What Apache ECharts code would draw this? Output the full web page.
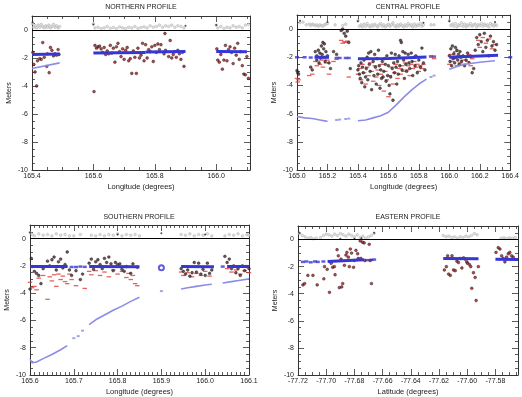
<!DOCTYPE html>
<html>
<head>
<meta charset="utf-8">
<script src="https://cdn.jsdelivr.net/npm/echarts@6/dist/echarts.min.js"></script>
<style>
  html, body { margin: 0; padding: 0; background: #fff; }
  #chart { width: 522px; height: 397px; }
</style>
</head>
<body>
<div id="chart"></div>
<script>
// ---- northern profile ----
const northTop = [[165.402,0.45],[165.405,0.2],[165.41,0.3],[165.415,0.15],[165.42,0.35],[165.425,0.2],[165.43,0.4],[165.435,0.25],[165.44,0.15],[165.445,0.3],[165.45,0.2],[165.455,0.35],[165.46,0.15],[165.465,0.25],[165.47,0.4],[165.475,0.2],[165.48,0.3],[165.485,0.15],[165.49,0.25],
  [165.6,0.45],[165.605,0.15],[165.615,0.2],[165.625,0.1],[165.635,0.15],[165.645,0.25],[165.655,0.12],[165.665,0.18],[165.675,0.1],[165.685,0.22],[165.695,0.15],[165.705,0.1],[165.715,0.2],[165.725,0.15],[165.735,0.25],[165.745,0.12],[165.755,0.18],[165.765,0.22],[165.775,0.15],[165.785,0.3],[165.795,0.2],[165.805,0.25],[165.815,0.35],[165.825,0.2],[165.835,0.3],[165.845,0.25],[165.855,0.35],[165.865,0.2],[165.875,0.3],[165.885,0.25],[165.895,0.15],
  [166.0,0.35],[166.005,0.15],[166.015,0.25],[166.025,0.1],[166.035,0.2],[166.045,0.15],[166.055,0.3],[166.065,0.2],[166.075,0.25],[166.085,0.15],[166.095,0.35],[166.105,0.4]]
const northMarks = [[165.402,0.55],[165.6,0.4],[165.9,0.3],[166.0,0.35]]
const northDots = [[165.403,-1.6],[165.406,-2.45],[165.41,-3.0],[165.415,-4.0],[165.418,-2.2],[165.425,-2.05],[165.43,-2.1],[165.435,-0.9],[165.44,-1.95],[165.448,-2.6],[165.45,-1.7],[165.456,-3.05],[165.46,-1.25],[165.465,-1.45],[165.47,-1.85],[165.475,-1.7],[165.48,-1.8],[165.485,-1.4],[165.488,-1.75],
  [165.602,-4.4],[165.605,-1.1],[165.61,-1.3],[165.615,-1.2],[165.62,-1.15],[165.625,-1.35],[165.63,-1.6],[165.635,-1.25],[165.64,-1.75],[165.645,-1.5],[165.65,-1.7],[165.655,-1.1],[165.66,-1.65],[165.665,-1.3],[165.67,-2.3],[165.675,-1.2],[165.68,-0.95],[165.685,-1.55],[165.69,-1.9],[165.695,-1.35],[165.7,-2.1],[165.705,-1.45],[165.71,-1.25],[165.715,-2.2],[165.72,-2.05],[165.725,-3.1],[165.73,-1.5],[165.735,-1.95],[165.74,-3.1],[165.745,-1.3],[165.75,-2.0],[165.755,-1.8],[165.76,-0.95],[165.765,-2.2],[165.77,-1.05],[165.775,-2.0],[165.78,-1.4],[165.785,-1.55],[165.79,-1.2],[165.795,-2.25],[165.8,-1.1],[165.805,-1.6],[165.81,-1.0],[165.815,-1.4],[165.82,-1.05],[165.833,-0.25],[165.83,-1.7],[165.835,-1.45],[165.85,-0.75],[165.845,-1.9],[165.855,-2.0],[165.86,-1.75],[165.865,-1.55],[165.87,-1.95],[165.875,-1.45],[165.88,-1.7],[165.885,-2.1],[165.89,-1.6],[165.895,-2.6],
  [166.002,-1.35],[166.005,-2.15],[166.01,-2.3],[166.015,-1.75],[166.02,-2.8],[166.025,-2.15],[166.03,-1.1],[166.035,-2.2],[166.04,-1.4],[166.045,-1.2],[166.05,-1.6],[166.055,-2.4],[166.06,-1.3],[166.065,-1.8],[166.07,-0.95],[166.075,-2.1],[166.08,-1.55],[166.085,-2.55],[166.09,-3.15],[166.095,-3.2],[166.1,-1.9],[166.105,-3.45]]
const northBlue = [[[165.4,-1.75],[165.49,-1.72]], [[165.6,-1.64],[165.77,-1.6]], [[165.77,-1.57],[165.9,-1.53]], [[166.0,-1.53],[166.1,-1.56]]]
const northCurve = [[[165.4,-2.75],[165.49,-2.35]]]

// ---- central profile ----
const centralTop = [[165.02,0.45],[165.04,0.5],[165.06,0.3],[165.08,0.35],[165.09,0.25],[165.1,0.35],[165.11,0.3],[165.12,0.25],[165.13,0.3],[165.14,0.2],[165.15,0.3],[165.16,0.25],[165.17,0.2],[165.18,0.3],[165.19,0.35],[165.2,0.4],[165.25,0.3],[165.3,0.25],[165.32,0.35],
  [165.4,0.6],[165.41,0.2],[165.42,0.3],[165.43,0.15],[165.44,0.35],[165.45,0.2],[165.46,0.4],[165.47,0.25],[165.48,0.15],[165.49,0.3],[165.5,0.2],[165.51,0.35],[165.52,0.25],[165.53,0.15],[165.54,0.3],[165.55,0.4],[165.56,0.2],[165.57,0.3],[165.58,0.15],[165.59,0.25],[165.6,0.35],[165.61,0.2],[165.62,0.3],[165.63,0.45],[165.64,0.25],[165.65,0.15],[165.66,0.3],[165.67,0.2],[165.68,0.35],[165.69,0.25],[165.7,0.15],[165.71,0.3],[165.72,0.2],[165.73,0.4],[165.74,0.25],[165.75,0.3],[165.76,0.15],[165.77,0.35],[165.78,0.2],[165.79,0.3],[165.8,0.25],[165.81,0.4],[165.82,0.2],[165.83,0.3],[165.88,0.3],[165.9,0.3],
  [166.0,0.6],[166.01,0.25],[166.02,0.35],[166.03,0.2],[166.04,0.4],[166.05,0.15],[166.06,0.3],[166.07,0.25],[166.08,0.45],[166.09,0.2],[166.1,0.35],[166.11,0.15],[166.12,0.3],[166.13,0.25],[166.14,0.4],[166.15,0.2],[166.16,0.3],[166.17,0.35],[166.18,0.15],[166.19,0.3],[166.2,0.25],[166.21,0.4],[166.22,0.2],[166.23,0.35],[166.24,0.25],[166.25,0.3],[166.26,0.15],[166.27,0.4],[166.28,0.3],[166.29,0.2],[166.3,0.35],[166.31,0.25]]
const centralMarks = [[165.02,0.6],[165.2,0.5],[165.4,0.55],[165.83,0.45],[166.0,0.55],[166.3,0.5]]
const centralDots = [[165.0,-2.95],[165.005,-3.1],[165.01,-3.2],
  [165.09,-2.7],[165.1,-2.9],[165.12,-1.6],[165.13,-1.9],[165.13,-2.2],[165.14,-1.5],[165.145,-2.4],[165.15,-1.7],[165.155,-2.05],[165.16,-1.2],[165.165,-1.8],[165.17,-0.95],[165.175,-1.4],[165.18,-1.05],[165.185,-2.3],[165.19,-1.6],[165.2,-1.9],[165.21,-2.4],[165.22,-2.8],
  [165.24,-1.6],[165.26,-1.8],[165.29,-0.1],[165.3,0.0],[165.31,-0.3],[165.32,-0.5],[165.33,-0.15],[165.34,-0.95],[165.35,-2.8],
  [165.4,-2.9],[165.405,-2.6],[165.41,-3.2],[165.415,-3.5],[165.42,-2.4],[165.425,-3.8],[165.43,-2.7],[165.435,-3.1],[165.44,-2.2],[165.445,-4.1],[165.45,-3.4],[165.455,-2.8],[165.46,-2.0],[165.465,-3.6],[165.47,-1.7],[165.475,-2.5],[165.48,-3.0],[165.485,-1.6],[165.49,-4.3],[165.5,-2.3],[165.505,-3.3],[165.51,-1.8],[165.515,-2.7],[165.52,-3.9],[165.525,-2.1],[165.53,-3.2],[165.535,-1.5],[165.54,-2.6],[165.545,-4.2],[165.55,-2.9],[165.555,-3.5],[165.56,-2.3],[165.565,-3.4],[165.57,-3.0],[165.575,-2.1],[165.58,-2.5],[165.585,-3.7],[165.59,-1.9],[165.595,-3.3],[165.6,-2.6],[165.605,-4.0],[165.61,-4.6],[165.615,-3.4],[165.62,-1.7],[165.625,-2.8],[165.63,-5.05],[165.635,-2.4],[165.64,-3.1],[165.645,-1.8],[165.65,-2.7],[165.655,-3.9],[165.66,-2.3],[165.665,-3.2],[165.67,-1.9],[165.675,-2.6],[165.68,-0.8],[165.685,-0.95],[165.69,-2.9],[165.695,-1.6],[165.7,-2.2],[165.705,-3.5],[165.71,-1.7],[165.715,-2.5],[165.72,-3.0],[165.73,-1.8],[165.735,-2.4],[165.74,-2.8],[165.75,-1.7],[165.755,-2.3],[165.76,-3.3],[165.77,-2.0],[165.775,-2.6],[165.78,-1.9],[165.79,-3.1],[165.8,-2.2],[165.81,-2.7],[165.82,-1.35],[165.83,-2.4],[165.84,-2.9],
  [166.0,-1.9],[166.005,-2.3],[166.01,-1.4],[166.015,-2.6],[166.02,-1.2],[166.025,-2.1],[166.03,-1.75],[166.035,-2.4],[166.04,-1.3],[166.045,-2.0],[166.05,-1.5],[166.055,-2.2],[166.06,-1.8],[166.065,-2.5],[166.07,-1.6],[166.075,-2.0],[166.08,-2.3],[166.09,-1.9],[166.1,-2.6],[166.11,-2.2],[166.12,-1.7],[166.13,-2.4],[166.14,-1.95],[166.15,-3.1],[166.16,-2.8],[166.17,-1.5],[166.18,-0.6],[166.19,-1.1],[166.2,-0.4],[166.21,-0.9],[166.22,-1.6],[166.23,-0.3],[166.24,-1.3],[166.25,-0.8],[166.26,-1.9],[166.27,-0.5],[166.28,-1.2],[166.29,-0.9],[166.3,-1.5],[166.31,-1.1]]
const centralDash = [[165.0,-3.5],[165.005,-3.75],[165.01,-3.6],
  [165.08,-3.3],[165.1,-3.2],[165.12,-2.3],[165.13,-2.6],[165.14,-2.0],[165.15,-2.5],[165.16,-2.2],[165.17,-2.7],[165.18,-2.1],[165.19,-2.4],[165.2,-2.2],[165.21,-3.2],[165.24,-2.3],[165.26,-2.15],
  [165.29,-0.8],[165.3,-1.0],[165.31,-0.9],[165.32,-0.95],[165.33,-0.85],[165.34,-3.4],
  [165.4,-3.2],[165.41,-2.8],[165.42,-3.6],[165.43,-2.5],[165.44,-3.1],[165.45,-3.9],[165.46,-2.7],[165.47,-3.3],[165.48,-2.4],[165.49,-3.0],[165.5,-3.7],[165.51,-2.6],[165.52,-3.4],[165.53,-2.9],[165.54,-4.0],[165.55,-3.2],[165.56,-2.5],[165.57,-4.4],[165.58,-3.0],[165.59,-3.6],[165.6,-4.8],[165.61,-3.3],[165.62,-2.7],[165.63,-3.9],[165.64,-3.1],[165.65,-2.5],[165.66,-3.5],[165.67,-2.8],[165.68,-3.2],[165.69,-2.6],[165.7,-3.0],[165.71,-2.4],[165.72,-2.9],[165.73,-2.6],[165.74,-3.3],[165.75,-2.5],[165.76,-2.8],[165.77,-2.3],[165.78,-2.7],[165.79,-2.5],[165.8,-3.0],[165.81,-2.6],[165.82,-2.8],[165.83,-2.5],[165.88,-1.9],[165.9,-2.1],
  [166.0,-2.5],[166.01,-1.8],[166.02,-2.3],[166.03,-2.1],[166.04,-1.6],[166.05,-2.6],[166.06,-2.0],[166.07,-2.4],[166.08,-1.9],[166.09,-2.2],[166.1,-2.5],[166.11,-2.0],[166.12,-2.3],[166.13,-1.8],[166.14,-2.6],[166.15,-2.1],[166.17,-1.9],[166.19,-0.8],[166.2,-1.3],[166.22,-0.6],[166.24,-1.0],[166.26,-0.7],[166.28,-1.4],[166.3,-1.1]]
const centralBlue = [[[165.115,-2.0],[165.21,-2.0]], [[165.4,-2.1],[165.6,-2.08],[165.85,-1.98]], [[166.0,-2.0],[166.32,-1.85]]]
const centralBlueDots = [[165.0,-2.0],[165.05,-2.0],[165.09,-2.02],[165.26,-2.05],[165.28,-2.05],[165.32,-2.05],[165.34,-2.05],[165.88,-1.95],[165.9,-1.95],[166.4,-2.0]]
const centralCurve = [[[165.0,-6.2],[165.05,-6.3],[165.1,-6.35],[165.15,-6.45],[165.2,-6.55]],
  [[165.4,-6.5],[165.45,-6.45],[165.5,-6.3],[165.55,-6.15],[165.6,-5.9],[165.65,-5.4],[165.7,-4.85],[165.75,-4.35],[165.8,-3.9],[165.85,-3.55]],
  [[166.0,-2.85],[166.05,-2.65],[166.1,-2.5],[166.15,-2.42],[166.2,-2.35],[166.25,-2.3],[166.3,-2.25]]]
const centralCurveDots = [[165.26,-6.45],[165.28,-6.42],[165.32,-6.38],[165.34,-6.35],[165.88,-3.4],[165.9,-3.3]]

// ---- southern profile ----
const southTop = [[165.6,0.45],[165.605,0.3],[165.61,0.2],[165.62,0.35],[165.63,0.25],[165.64,0.3],[165.65,0.2],[165.66,0.35],[165.67,0.25],[165.68,0.3],[165.69,0.2],[165.7,0.2],[165.715,0.3],[165.74,0.25],[165.75,0.2],[165.76,0.3],[165.77,0.2],[165.78,0.3],[165.79,0.25],[165.8,0.35],[165.81,0.2],[165.82,0.3],[165.83,0.25],[165.84,0.3],[165.85,0.2],
  [165.945,0.3],[165.955,0.25],[165.965,0.35],[165.975,0.2],[165.985,0.3],[165.995,0.25],[166.005,0.35],[166.015,0.2],[166.045,0.2],[166.055,0.3],[166.065,0.25],[166.075,0.35],[166.085,0.2],[166.095,0.3],[166.1,0.25]]
const southMarks = [[165.6,0.45],[165.9,0.4],[165.8,0.3],[166.0,0.3]]
const southDots = [[165.6,-3.7],[165.603,-1.45],[165.605,-2.05],[165.61,-2.4],[165.615,-2.55],[165.62,-2.7],[165.625,-3.3],[165.63,-2.2],[165.64,-1.65],[165.645,-2.0],[165.65,-1.55],[165.655,-1.35],[165.66,-2.3],[165.665,-1.7],[165.67,-1.5],[165.675,-2.15],[165.68,-1.9],[165.685,-0.98],[165.69,-2.3],[165.695,-2.7],[165.705,-2.35],[165.715,-3.0],[165.72,-2.6],
  [165.735,-1.8],[165.74,-1.5],[165.745,-2.25],[165.75,-1.7],[165.755,-1.55],[165.76,-1.9],[165.765,-2.2],[165.77,-1.45],[165.775,-1.75],[165.78,-1.35],[165.785,-1.85],[165.79,-2.35],[165.795,-1.75],[165.8,-1.9],[165.805,-1.85],[165.81,-2.25],[165.815,-2.4],[165.82,-2.05],[165.83,-2.55],[165.835,-1.85],[165.845,-2.1],
  [165.945,-2.2],[165.95,-2.4],[165.955,-2.6],[165.96,-2.3],[165.965,-2.75],[165.97,-2.5],[165.975,-1.75],[165.98,-2.45],[165.985,-1.8],[165.99,-2.6],[165.995,-2.25],[166.0,-2.7],[166.005,-1.8],[166.01,-2.55],[166.015,-2.3],
  [166.045,-1.3],[166.05,-1.75],[166.055,-1.5],[166.06,-2.2],[166.065,-2.0],[166.07,-2.5],[166.075,-2.2],[166.08,-2.7],[166.085,-2.0],[166.09,-2.35],[166.095,-2.05],[166.1,-2.2]]
const southDash = [[165.6,-3.2],[165.605,-3.6],[165.61,-3.5],[165.615,-3.75],[165.62,-2.9],[165.63,-2.7],[165.64,-4.45],[165.645,-2.8],[165.65,-3.1],[165.655,-2.65],[165.66,-3.5],[165.665,-2.6],[165.67,-3.0],[165.675,-2.75],[165.68,-3.15],[165.685,-3.3],[165.69,-2.6],[165.695,-3.0],[165.705,-3.45],[165.725,-3.65],
  [165.735,-2.4],[165.74,-2.65],[165.75,-2.35],[165.76,-2.7],[165.77,-2.45],[165.78,-2.8],[165.79,-2.3],[165.8,-2.6],[165.81,-2.4],[165.82,-2.85],[165.825,-2.55],[165.83,-3.0],[165.835,-2.7],[165.84,-3.3],[165.845,-3.45],
  [165.945,-2.45],[165.95,-2.7],[165.96,-2.5],[165.97,-2.8],[165.98,-2.55],[165.99,-2.7],[166.0,-2.4],[166.01,-2.75],
  [166.05,-2.2],[166.06,-2.45],[166.07,-2.3],[166.08,-2.6],[166.09,-2.35],[166.1,-2.5]]
const southBlue = [[[165.6,-2.05],[165.686,-2.05]], [[165.735,-2.05],[165.85,-2.07]], [[165.945,-2.05],[166.02,-2.07]], [[166.05,-2.05],[166.1,-2.05]]]
const southBlueDots = [[165.695,-2.08],[165.705,-2.08],[165.715,-2.05],[165.725,-2.07],[166.04,-2.05]]
const southRing = [[165.9,-2.14]]
const southCurve = [[[165.6,-8.85],[165.605,-9.1],[165.615,-9.05],[165.63,-8.8],[165.65,-8.5],[165.67,-8.15],[165.685,-7.85]],
  [[165.735,-6.3],[165.75,-5.95],[165.77,-5.6],[165.79,-5.25],[165.81,-4.95],[165.83,-4.6],[165.85,-4.3]],
  [[165.945,-3.7],[165.96,-3.6],[165.98,-3.5],[166.0,-3.4],[166.015,-3.35]],
  [[166.04,-3.25],[166.06,-3.15],[166.08,-3.05],[166.1,-2.95]]]
const southCurveDots = [[165.7,-7.3],[165.71,-7.15],[165.72,-6.75],[165.9,-3.85]]

// ---- eastern profile ----
const eastTop = [[-77.719,0.45],[-77.717,0.3],[-77.715,0.2],[-77.713,0.1],[-77.711,0.15],[-77.709,0.05],[-77.707,0.1],[-77.704,0.15],[-77.702,0.3],[-77.7,0.4],[-77.698,0.35],[-77.696,0.25],[-77.694,0.4],[-77.692,0.3],[-77.69,0.45],[-77.688,0.35],[-77.686,0.25],[-77.684,0.4],[-77.682,0.3],[-77.68,0.2],[-77.678,0.35],[-77.676,0.15],[-77.674,0.25],[-77.672,0.1],[-77.67,0.2],[-77.668,0.3],[-77.666,0.45],
  [-77.617,0.3],[-77.615,0.2],[-77.613,0.25],[-77.611,0.15],[-77.609,0.2],[-77.607,0.1],[-77.605,0.2],[-77.603,0.15],[-77.601,0.25],[-77.599,0.2],[-77.597,0.3],[-77.595,0.45],[-77.593,0.35],
  [-77.576,0.1],[-77.574,0.12],[-77.572,0.08],[-77.57,0.12],[-77.568,0.1],[-77.566,0.15]]
const eastMarks = [[-77.719,0.5],[-77.69,0.05],[-77.68,0.05],[-77.675,0.1],[-77.666,0.5]]
const eastDots = [[-77.7165,-3.35],[-77.7153,-3.25],[-77.713,-2.65],[-77.7094,-2.65],[-77.7064,-3.35],[-77.7017,-2.9],[-77.7012,-2.0],[-77.6993,-2.2],[-77.6977,-3.9],[-77.6965,-1.75],[-77.6954,-2.05],[-77.6942,-2.0],[-77.6937,-2.6],[-77.6923,-0.75],[-77.6914,-1.2],[-77.6907,-3.55],[-77.6895,-1.45],[-77.689,-3.5],[-77.6883,-3.25],[-77.6871,-1.9],[-77.686,-1.15],[-77.6853,-0.95],[-77.6843,-1.3],[-77.6836,-2.0],[-77.6829,-0.7],[-77.682,-1.0],[-77.6806,-2.05],[-77.6801,-1.55],[-77.6789,-0.8],[-77.6777,-1.05],[-77.6773,-1.4],[-77.6759,-0.1],[-77.6754,-1.4],[-77.6742,-0.2],[-77.6731,-0.25],[-77.6726,-1.55],[-77.6695,-0.35],[-77.6688,-1.55],[-77.6679,-3.25],
  [-77.6162,-2.25],[-77.6148,-2.0],[-77.6139,-1.2],[-77.6132,-2.55],[-77.612,-2.65],[-77.6108,-1.2],[-77.6097,-2.25],[-77.6085,-2.3],[-77.6073,-1.6],[-77.6062,-1.7],[-77.605,-1.4],[-77.6038,-2.1],[-77.6026,-1.35],[-77.6015,-1.45],[-77.6003,-1.65],[-77.5998,-1.75],[-77.5984,-1.85],[-77.5975,-2.0],[-77.5968,-3.6],[-77.5956,-2.45],[-77.5944,-2.8],[-77.5937,-4.5],[-77.5921,-2.0],
  [-77.5796,-0.95],[-77.578,-0.6],[-77.5768,-0.7],[-77.5756,-1.2],[-77.5745,-1.4],[-77.5733,-1.65],[-77.5721,-1.3],[-77.5709,-1.05],[-77.5698,-0.95],[-77.5686,-1.2],[-77.5674,-1.3]]
const eastBlue = [[[-77.699,-1.62],[-77.673,-1.5]], [[-77.617,-1.4],[-77.592,-1.42]], [[-77.58,-1.45],[-77.564,-1.48]]]
const eastBlueDots = [[-77.7165,-1.65],[-77.714,-1.62],[-77.711,-1.68],[-77.708,-1.62],[-77.706,-1.65],[-77.702,-1.62],[-77.671,-1.52],[-77.668,-1.5],[-77.666,-1.48]]

const FONT = 'Liberation Sans, Arial, sans-serif'
const INK = '#222'

const panels = [
  { title: 'NORTHERN PROFILE', tx: 141, ty: 7, grid: { left: 32, top: 16, width: 218, height: 154 },
    xName: 'Longitude (degrees)', xMin: 165.4, xMax: 166.11, xStep: 0.2, xMinor: 4, digits: 1,
    top: northTop, marks: northMarks, dots: northDots, dotColor: '#a31c1c', dash: [], blue: northBlue, blueDots: [], curve: northCurve, curveDots: [], ring: [] },
  { title: 'CENTRAL PROFILE', tx: 408, ty: 7, grid: { left: 297, top: 15, width: 216, height: 155 },
    xName: 'Longitude (degrees)', xMin: 165.0, xMax: 166.4, xStep: 0.2, xMinor: 4, digits: 1,
    top: centralTop, marks: centralMarks, dots: centralDots, dotColor: '#4a2a2a', dash: centralDash, blue: centralBlue, blueDots: centralBlueDots, curve: centralCurve, curveDots: centralCurveDots, ring: [] },
  { title: 'SOUTHERN PROFILE', tx: 139, ty: 217, grid: { left: 30, top: 225, width: 219, height: 152 },
    xName: 'Longitude (degrees)', xMin: 165.6, xMax: 166.1, xStep: 0.1, xMinor: 10, digits: 1,
    top: southTop, marks: southMarks, dots: southDots, dotColor: '#4a2a2a', dash: southDash, blue: southBlue, blueDots: southBlueDots, curve: southCurve, curveDots: southCurveDots, ring: southRing },
  { title: 'EASTERN PROFILE', tx: 408, ty: 217, grid: { left: 298, top: 226, width: 220, height: 151 },
    xName: 'Latitude (degrees)', xMin: -77.72, xMax: -77.564, xStep: 0.02, xMinor: 4, digits: 2,
    top: eastTop, marks: eastMarks, dots: eastDots, dotColor: '#a31c1c', dash: [], blue: eastBlue, blueDots: eastBlueDots, curve: [], curveDots: [], ring: [] },
]

const tickLine = { color: '#333', width: 0.8 }

function xAxes(p, i) {
  const isMajor = (v) => Math.abs(v / p.xStep - Math.round(v / p.xStep)) < 1e-6
  const base = {
    type: 'value', gridIndex: i, min: p.xMin, max: p.xMax, interval: p.xStep,
    axisLine: { show: true, onZero: false, lineStyle: { color: '#333', width: 1 } },
    axisTick: { show: true, inside: true, length: 6, lineStyle: tickLine },
    minorTick: { show: true, splitNumber: p.xMinor, length: 3, lineStyle: tickLine },
    splitLine: { show: false },
  }
  return [
    Object.assign({}, base, {
      position: 'bottom', name: p.xName, nameLocation: 'middle', nameGap: 13,
      nameTextStyle: { fontSize: 7.5, color: INK, fontFamily: FONT },
      axisLabel: { fontSize: 7, color: INK, fontFamily: FONT, margin: 3,
        formatter: (v) => (isMajor(v) ? v.toFixed(p.digits) : '') },
    }),
    Object.assign({}, base, { position: 'top', axisLabel: { show: false } }),
  ]
}

function yAxes(p, i) {
  const base = {
    type: 'value', gridIndex: i, min: -10, max: 1, interval: 2,
    axisLine: { show: true, onZero: false, lineStyle: { color: '#333', width: 1 } },
    axisTick: { show: true, inside: true, length: 6, lineStyle: tickLine },
    minorTick: { show: true, splitNumber: 4, length: 3, lineStyle: tickLine },
    splitLine: { show: false },
  }
  return [
    Object.assign({}, base, {
      position: 'left', name: 'Meters', nameLocation: 'middle', nameGap: 19,
      nameTextStyle: { fontSize: 7, color: INK, fontFamily: FONT },
      axisLabel: { fontSize: 7, color: INK, fontFamily: FONT, margin: 4,
        formatter: (v) => (v <= 0 ? String(Math.round(v)) : '') },
    }),
    Object.assign({}, base, { position: 'right', axisLabel: { show: false } }),
  ]
}

function panelSeries(p, i) {
  const ax = { xAxisIndex: 2 * i, yAxisIndex: 2 * i }
  const list = []
  // grey strip above the zero line, which rides on this series
  list.push(Object.assign({
    type: 'scatter', data: p.top, symbol: 'circle', symbolSize: 2.6,
    itemStyle: { color: '#dcdcdc', borderColor: '#9a9a9a', borderWidth: 0.5 },
    markLine: { silent: true, symbol: 'none', label: { show: false },
      lineStyle: { color: '#000', width: 1, type: 'solid' }, data: [{ yAxis: 0 }] },
  }, ax))
  list.push(Object.assign({ type: 'scatter', data: p.marks, symbolSize: 2, itemStyle: { color: '#222' } }, ax))
  p.curve.forEach((seg) => {
    list.push(Object.assign({ type: 'line', data: seg, showSymbol: false,
      lineStyle: { color: '#8c8ce8', width: 1.6 } }, ax))
  })
  list.push(Object.assign({ type: 'scatter', data: p.curveDots, symbol: 'rect', symbolSize: [3, 2],
    itemStyle: { color: '#8c8ce8' } }, ax))
  p.blue.forEach((seg) => {
    list.push(Object.assign({ type: 'line', data: seg, showSymbol: false,
      lineStyle: { color: '#3636d6', width: 3 } }, ax))
  })
  list.push(Object.assign({ type: 'scatter', data: p.blueDots, symbol: 'rect', symbolSize: [4, 2.5],
    itemStyle: { color: '#3636d6' } }, ax))
  list.push(Object.assign({ type: 'scatter', data: p.ring, symbol: 'emptyCircle', symbolSize: 5,
    itemStyle: { color: '#3636d6', borderWidth: 1 } }, ax))
  list.push(Object.assign({ type: 'scatter', data: p.dash, symbol: 'rect', symbolSize: [4.5, 1.3],
    itemStyle: { color: '#e03a3a' } }, ax))
  list.push(Object.assign({ type: 'scatter', data: p.dots, symbol: 'circle', symbolSize: 2.8,
    itemStyle: { color: p.dotColor, borderColor: '#111', borderWidth: 0.5 } }, ax))
  return list
}

const chart = echarts.init(document.getElementById('chart'), null, { renderer: 'canvas' })

const option = {
  animation: false,
  backgroundColor: '#fff',
  grid: panels.map((p) => p.grid),
  xAxis: panels.flatMap((p, i) => xAxes(p, i)),
  yAxis: panels.flatMap((p, i) => yAxes(p, i)),
  graphic: panels.map((p) => ({
    type: 'text', x: p.tx, y: p.ty, silent: true,
    style: { text: p.title, fill: INK, font: '7px ' + FONT, textAlign: 'center', textVerticalAlign: 'middle' },
  })),
  series: panels.flatMap((p, i) => panelSeries(p, i)),
}
chart.setOption(option)
</script>
</body>
</html>
